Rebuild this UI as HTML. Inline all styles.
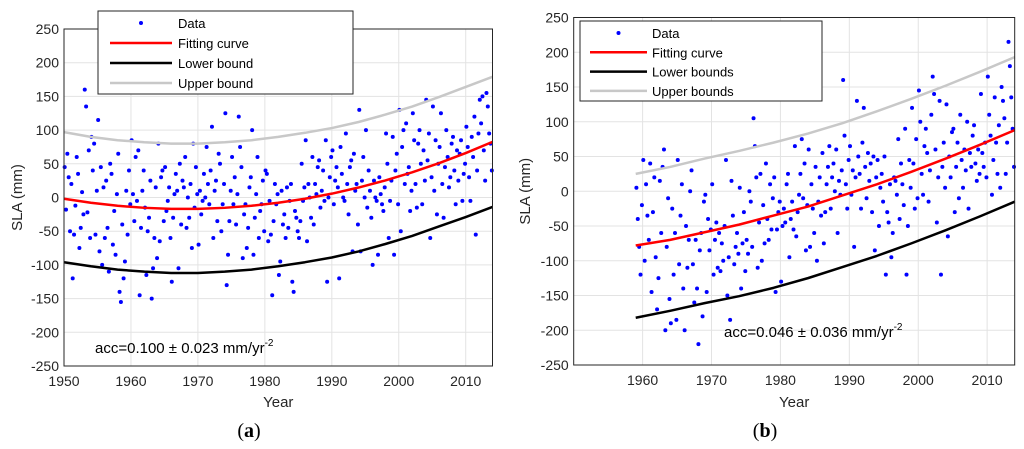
<!DOCTYPE html>
<html><head><meta charset="utf-8">
<style>
body{margin:0;background:#fff;}
svg{display:block;font-family:"Liberation Sans",sans-serif;}
</style></head>
<body>
<svg id="fig" width="1024" height="449" viewBox="0 0 1024 449">
</svg>
<script>
// ---------- Chart A data ----------
const yearsA = [];
for (let y = 1950; y <= 2013; y++) yearsA.push(y);
const slaA = [
[45,-18,65,30,-50],[20,-120,-55,-12,60],[35,-75,-45,8,-25],[160,135,-22,70,-60],[90,40,80,-55,10],
[115,-80,45,-100,15],[-60,25,-45,-110,50],[35,-70,-20,-85,5],[65,-140,-155,-40,-120],[-95,10,-55,40,-10],
[85,5,-35,60,-5],[70,-145,-45,10,40],[-15,-115,-50,-30,25],[-150,-105,-60,15,-90],[80,-65,30,40,-35],
[45,-20,-5,15,-60],[-125,-30,5,35,10],[-105,50,-40,25,15],[60,-45,0,-30,20],[-75,80,-15,45,5],
[-70,10,-25,-5,35],[0,75,20,-10,40],[105,-60,10,25,-35],[65,50,-50,-10,20],[125,-130,-85,-35,10],
[60,-10,30,-40,5],[120,75,45,-90,-25],[-10,-75,-45,15,30],[100,-85,-30,5,60],[-60,-20,-10,25,-50],
[40,35,-65,-5,-55],[-145,-35,20,-10,5],[-115,-95,10,-40,-25],[-60,15,-45,-5,20],[-125,-140,-20,-30,-50],
[-60,-35,50,-5,15],[85,-65,20,0,-30],[60,-40,20,5,45],[55,-15,10,40,-5],[85,-125,0,30,60],
[70,-10,25,45,15],[-120,75,35,0,-5],[95,20,-25,45,55],[-80,65,10,20,-40],[130,-80,25,60,0],
[100,-15,40,10,-30],[-100,25,0,-5,-85],[30,5,-10,-20,15],[95,50,-60,-5,25],[90,-85,40,65,-10],
[130,-50,75,100,20],[110,35,45,-20,10],[125,85,20,-15,80],[100,50,-10,70,25],[145,55,95,-60,30],
[135,10,85,-25,50],[75,125,20,-30,45],[100,60,15,30,80],[90,40,-10,70,25],[65,85,-5,35,50],
[105,75,30,-5,90],[60,120,-55,40,95],[145,110,150,70,25],[155,135,95,80,40]
];
const curveYearsA = [1950,1954,1958,1962,1966,1970,1974,1978,1982,1986,1990,1994,1998,2002,2006,2010,2014];
const fitA   = [-1.8,-7.8,-12.3,-15.3,-16.8,-16.8,-15.3,-12.3,-7.8,-1.8,5.7,14.8,25.3,37.3,50.9,65.9,82.5];
const upperA = [97,90,85,82,80,80,82,85,90,96,103,112,123,135,149,164,179];
const lowerA = [-96,-102,-107,-110,-112,-112,-110,-107,-102,-96,-89,-80,-69,-57,-43,-29,-14];

// ---------- Chart B data ----------
const yearsB = [];
for (let y = 1959; y <= 2013; y++) yearsB.push(y);
const slaB = [
[5,-40,-80,-120,-20],[45,-100,10,-35,-70],[40,-145,-30,20,-95],[-170,-125,15,-60,35],[60,-200,-80,-10,-155],
[-190,-25,-120,-60,-185],[45,-105,-35,10,-140],[-200,-50,-110,-70,0],[30,-105,-160,-70,-140],[-220,-85,-60,-180,-15],
[-5,-145,-40,-85,-55],[10,-120,-70,-45,-110],[-60,-115,-75,-100,-50],[45,-150,-95,-185,15],[-35,-105,-80,-60,-90],
[5,-140,-75,-30,-115],[-70,-90,0,-15,-80],[105,65,20,-110,-45],[25,-100,-20,-75,40],[-40,-70,10,-55,-10],
[20,-145,-55,-30,-15],[-130,-50,-25,-45,10],[25,-95,-40,-15,-55],[65,-65,-30,-5,25],[75,-10,40,-85,-20],
[60,-80,10,-25,-60],[35,-100,-15,20,-35],[55,-75,-30,10,35],[65,-25,20,40,0],[60,-60,15,-5,30],
[160,80,10,-25,45],[65,-5,30,-80,20],[130,50,25,-25,70],[120,35,-10,55,15],[40,-30,50,-85,20],
[45,-50,5,25,-15],[50,-120,-30,-45,10],[-95,-60,20,15,-5],[75,-40,40,10,-20],[90,-120,-50,45,5],
[120,40,-25,75,-10],[145,100,25,-5,65],[90,55,-15,30,110],[165,140,60,-45,20],[130,-120,35,70,5],
[125,-65,50,20,85],[90,-30,35,70,-10],[110,45,5,60,30],[100,-25,55,35,80],[95,40,15,60,25],
[140,55,35,70,20],[165,110,80,-5,45],[135,70,25,95,5],[150,130,105,25,70],[215,180,135,90,35]
];
const curveYearsB = [1959,1964,1969,1974,1979,1984,1989,1994,1999,2004,2009,2014];
const fitB   = [-78,-70,-59,-48,-35,-22,-6,10,28,47,67,88];
const upperB = [25,35,47,58,70,83,98,115,133,152,172,193];
const lowerB = [-182,-172,-161,-151,-139,-125,-109,-93,-75,-56,-36,-15];

const yTicks = [250,200,150,100,50,0,-50,-100,-150,-200,-250];
const xTicksA = [1950,1960,1970,1980,1990,2000,2010];
const xTicksB = [1960,1970,1980,1990,2000,2010];

const NS = "http://www.w3.org/2000/svg";
const svg = document.getElementById('fig');
function mk(tag, attrs, parent){
  const e = document.createElementNS(NS, tag);
  for (const k in attrs) e.setAttribute(k, attrs[k]);
  (parent||svg).appendChild(e);
  return e;
}

function drawChart(cfg){
  const g = mk('g', {});
  
  
  const X = v => cfg.x0 + (v - cfg.xmin) / (cfg.xmax - cfg.xmin) * (cfg.x1 - cfg.x0);
  const Y = v => cfg.y1 - (v - (-250)) / 500 * (cfg.y1 - cfg.y0);
  // grid
  yTicks.forEach(t => {
    const l = mk('line', {x1:cfg.x0, x2:cfg.x1, y1:Y(t), y2:Y(t), stroke:'#e3e3e3', 'stroke-width':1}, g);
    
    
    const tx = mk('text', {x:cfg.x0-5, y:Y(t)+5, 'text-anchor':'end', 'font-size':14, fill:'#262626'}, g);
    tx.textContent = t;
    
    
  });
  cfg.xTicks.forEach(t => {
    const l = mk('line', {x1:X(t), x2:X(t), y1:cfg.y0, y2:cfg.y1, stroke:'#e3e3e3', 'stroke-width':1}, g);
    
    
    const tx = mk('text', {x:X(t), y:cfg.y1+20, 'text-anchor':'middle', 'font-size':14, fill:'#262626'}, g);
    tx.textContent = t;
    
    
  });
  // points
  cfg.years.forEach((yr, i) => {
    const vals = cfg.sla[i];
    vals.forEach((v, k) => {
      const c = mk('circle', {cx:X(yr + (k+0.5)/vals.length), cy:Y(v), r:2, fill:'#0000ff'}, g);
      
      
    });
  });
  // curves
  const line = (arr, color, w, nm) => {
    const p = mk('polyline', {points: cfg.cy.map((yr,i)=>X(yr)+','+Y(arr[i])).join(' '), fill:'none', stroke:color, 'stroke-width':w, 'stroke-linejoin':'round'}, g);
    
    
  };
  line(cfg.upper, '#c8c8c8', 2.5, 'upper-bound-curve');
  line(cfg.lower, '#000000', 2.5, 'lower-bound-curve');
  line(cfg.fit, '#ff0000', 2.5, 'fitting-curve');
  // box
  const b = mk('rect', {x:cfg.x0, y:cfg.y0, width:cfg.x1-cfg.x0, height:cfg.y1-cfg.y0, fill:'none', stroke:'#262626', 'stroke-width':1}, g);
  
  
  // legend
  const L = cfg.legend;
  const lg = mk('g', {}, g);
  
  
  mk('rect', {x:L.x, y:L.y, width:L.w, height:L.h, fill:'#fff', stroke:'#262626', 'stroke-width':1}, lg);
  const items = [['dot','#0000ff','Data'],['line','#ff0000','Fitting curve'],['line','#000','Lower '+cfg.bw],['line','#c8c8c8','Upper '+cfg.bw]];
  items.forEach((it, i) => {
    const yy = L.y + 12 + i*L.step;
    if (it[0]==='dot') mk('circle', {cx:(L.lx0+L.lx1)/2, cy:yy, r:2, fill:it[1]}, lg);
    else mk('line', {x1:L.lx0, x2:L.lx1, y1:yy, y2:yy, stroke:it[1], 'stroke-width':2.5}, lg);
    const t = mk('text', {x:L.tx, y:yy+5, 'font-size':13, fill:'#000'}, lg);
    t.textContent = it[2];
    
    
  });
  // annotation
  const an = mk('text', {x:cfg.ann[0], y:cfg.ann[1], 'font-size':15, fill:'#000'}, g);
  an.innerHTML = cfg.annText + ' \u00b1 ' + cfg.annText2 + ' mm/yr<tspan dy="-7" font-size="10">-2</tspan>';
  
  
  // axis titles
  const xt = mk('text', {x:(cfg.x0+cfg.x1)/2, y:407, 'text-anchor':'middle', 'font-size':15, fill:'#262626'}, g);
  xt.textContent = 'Year';
  
  
  const yt = mk('text', {x:0, y:0, 'text-anchor':'middle', 'font-size':15, fill:'#262626', transform:'translate('+cfg.ytx+','+((cfg.y0+cfg.y1)/2)+') rotate(-90)'}, g);
  yt.textContent = 'SLA (mm)';
  
  
  const pl = mk('text', {x:cfg.label[0], y:cfg.label[1], 'text-anchor':'middle', 'font-size':20, 'font-family':'Liberation Serif, serif', fill:'#000'}, g);
  pl.innerHTML = '(<tspan font-weight="bold">'+cfg.letter+'</tspan>)';
  
  
}

drawChart({name:'chart-a', x0:64, x1:492.5, y0:29, y1:366, xmin:1950, xmax:2014, xTicks:xTicksA,
  years:yearsA, sla:slaA, cy:curveYearsA, fit:fitA, upper:upperA, lower:lowerA, bw:'bound',
  legend:{x:98, y:11, w:255, h:83, step:20, lx0:110, lx1:172, tx:178},
  ann:[95,353], annText:'acc=0.100', annText2:'0.023', ytx:22, label:[249,437], letter:'a'});
drawChart({name:'chart-b', x0:573.7, x1:1014.7, y0:17.5, y1:365, xmin:1950, xmax:2014, xTicks:xTicksB,
  years:yearsB, sla:slaB, cy:curveYearsB, fit:fitB, upper:upperB, lower:lowerB, bw:'bounds',
  legend:{x:580, y:21, w:242, h:80, step:19.3, lx0:590, lx1:647, tx:652},
  ann:[724,337], annText:'acc=0.046', annText2:'0.036', ytx:530, label:[765,437], letter:'b'});
</script>
</body></html>
